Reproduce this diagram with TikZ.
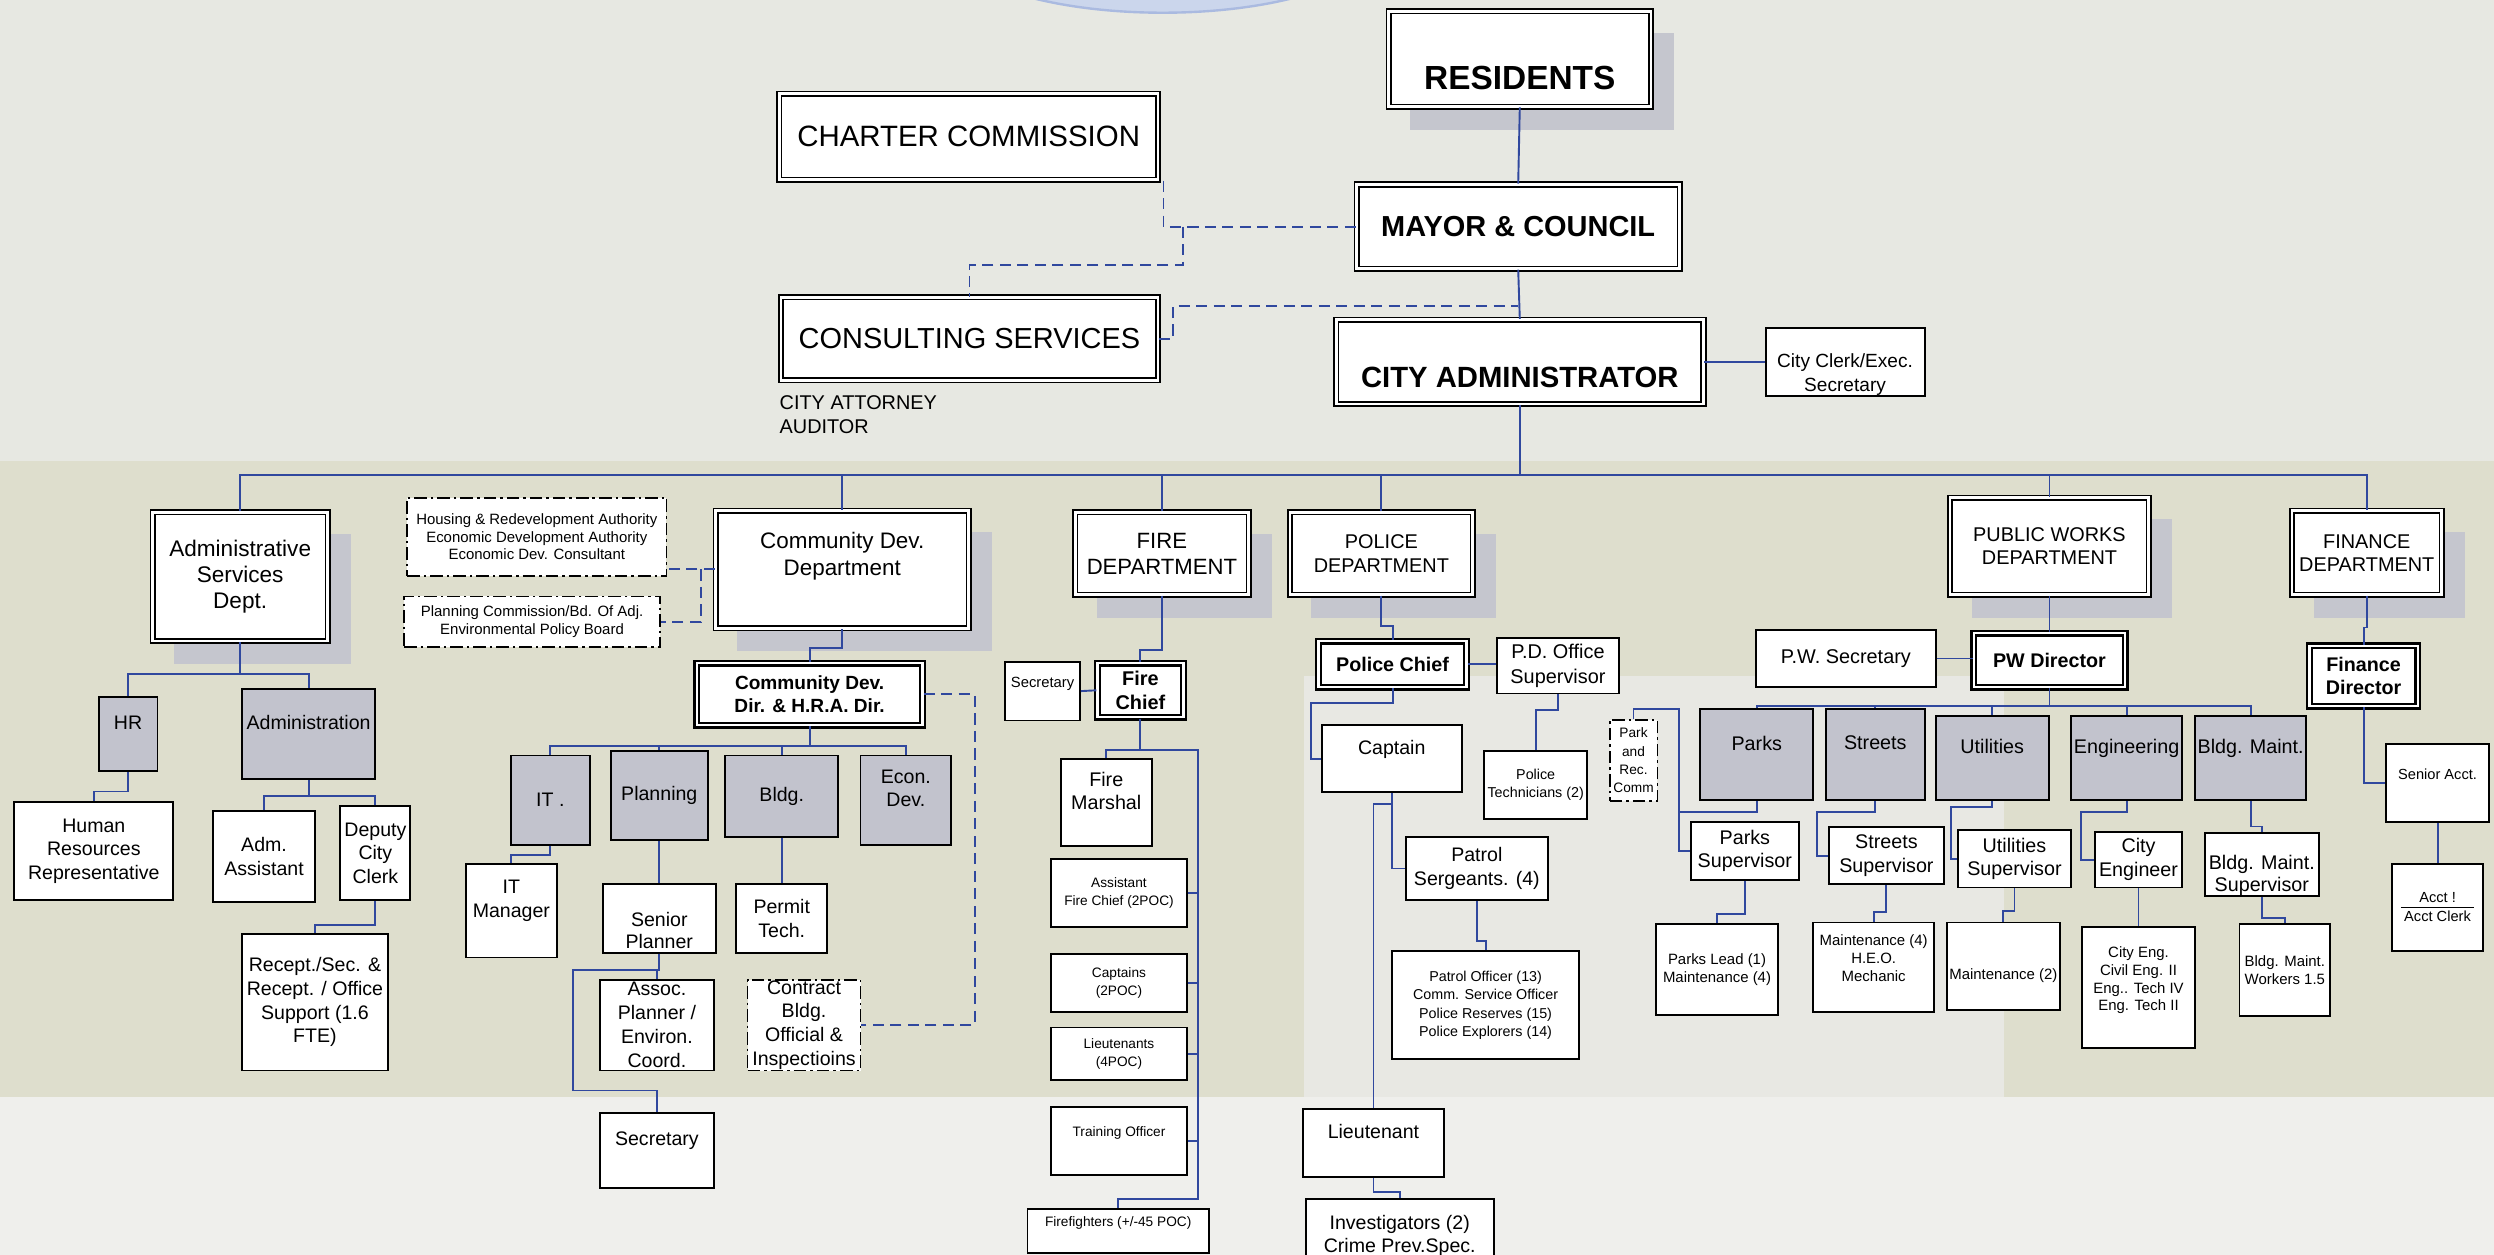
\documentclass[tikz,border=0pt]{standalone}
\usepackage{fontspec}
\setmainfont{Liberation Sans}
\usepackage{tikz}
\usetikzlibrary{calc, positioning, backgrounds}
\pgfdeclarelayer{paper}
\pgfsetlayers{paper,background,main}

\definecolor{paperbase}{RGB}{231,232,226}
\definecolor{paperband}{RGB}{222,222,205}
\definecolor{paperlight}{RGB}{232,232,227}
\definecolor{paperlow}{RGB}{239,239,236}
\definecolor{skyblue}{RGB}{203,214,236}
\definecolor{skyedge}{RGB}{170,186,224}
\definecolor{unitgray}{RGB}{194,195,205}
\definecolor{shadegray}{RGB}{197,198,206}
\definecolor{linkblue}{RGB}{48,72,158}

\begin{document}
\begin{tikzpicture}[
    x=1pt, y=-1pt,
    fs/.style 2 args={font=\fontsize{#1}{#2}\selectfont},
    bfs/.style 2 args={font=\fontsize{#1}{#2}\selectfont\bfseries},
    box/.style={
        rectangle, draw=black, line width=1.2pt, fill=white,
        align=center, inner sep=0.5pt
    },
    grey_box/.style={
        box, fill=unitgray
    },
    dept_box/.style={
        rectangle, draw=black, line width=1pt, double=white, double distance=1.8pt,
        fill=white, align=center, inner sep=0.5pt
    },
    chief_box/.style={
        rectangle, draw=black, line width=1.5pt, double=white, double distance=1.4pt,
        fill=white, align=center, inner sep=0.5pt
    },
    board_box/.style={
        box, line width=1.1pt, dash pattern=on 8pt off 2.5pt on 1.5pt off 2.5pt
    },
    drop_shade/.style={fill=shadegray, draw=none},
    conn/.style={draw=linkblue, line width=1.2pt},
    dconn/.style={conn, dash pattern=on 7pt off 4pt}
]
    \useasboundingbox (0,0) rectangle (1568,789);

    % paper behind everything
    \begin{pgfonlayer}{paper}
        \fill [paperbase] (0,0) rectangle (1568,789);
        \fill [paperband] (0,290) rectangle (1568,690);
        \fill [paperlight] (820,425) rectangle (1260,690);
        \fill [paperlow] (0,690) rectangle (1568,789);
        \filldraw [fill=skyblue, draw=skyedge, line width=1.5pt] (731,-40) ellipse [x radius=139, y radius=48];
    \end{pgfonlayer}

    % =========================================================================
    % TOP: RESIDENTS, COUNCIL, ADMINISTRATOR
    % =========================================================================
    \node [dept_box, bfs={21}{23}, minimum width=165, minimum height=60] (top_residents) at (955.5, 37) {\strut\\RESIDENTS};
    \node [dept_box, fs={18.5}{22}, minimum width=238, minimum height=54] (top_charter) at (609, 86) {CHARTER COMMISSION};
    \node [dept_box, bfs={18.2}{22}, minimum width=203, minimum height=53] (top_mayor) at (954.5, 142.5) {MAYOR \& COUNCIL};
    \node [dept_box, fs={18.2}{22}, minimum width=237, minimum height=52] (top_consult) at (609.5, 213) {CONSULTING SERVICES};
    \node [dept_box, bfs={18.4}{19}, minimum width=231, minimum height=53] (top_admin) at (955.5, 227.5) {\strut\\CITY ADMINISTRATOR};
    \node [box, fs={12}{14.5}, minimum width=100, minimum height=43] (top_clerk) at (1160, 227.5) {\strut\\City Clerk/Exec.\\Secretary};
    \node [fs={12.5}{15.3}, align=left, anchor=west, inner sep=0pt] (top_attorney) at (490, 260.5) {CITY ATTORNEY\\AUDITOR};

    \draw [conn] (top_residents.south) -- (top_mayor.north);
    \draw [conn] (top_mayor.south) -- (top_admin.north);
    \draw [conn] (top_admin.east) -- (top_clerk.west);

    % dashed advisory links
    \draw [dconn] ([xshift=3]top_charter.south east) |- (top_mayor.west);
    \coordinate (cc_fork) at ([xshift=-109]top_mayor.west);
    \draw [dconn] (cc_fork) -- ++(0,24) -| (top_consult.north);
    \draw [dconn] (top_consult.east) -- ++(9,0) |- ([yshift=-23]top_mayor.south);

    % =========================================================================
    % DEPARTMENTS
    % =========================================================================
    \node [dept_box, fs={14.2}{16.4}, minimum width=110, minimum height=81] (asd_dept) at (151, 362.5) {Administrative\\Services\\Dept.};
    \node [dept_box, fs={14.1}{16.5}, minimum width=159, minimum height=74] (cd_dept) at (529.5, 358) {Community Dev.\\Department\\[3pt]\mbox{}};
    \node [dept_box, fs={13.9}{16.3}, minimum width=109, minimum height=52] (fd_dept) at (730.5, 348) {FIRE\\DEPARTMENT};
    \node [dept_box, fs={12.5}{14.7}, minimum width=115, minimum height=52] (pd_dept) at (868.5, 348) {POLICE\\DEPARTMENT};
    \node [dept_box, fs={12.5}{14.6}, minimum width=125, minimum height=61] (pw_dept) at (1288.5, 343.5) {PUBLIC WORKS\\DEPARTMENT};
    \node [dept_box, fs={12.5}{14.6}, minimum width=94, minimum height=53] (fn_dept) at (1488, 347.5) {FINANCE\\DEPARTMENT};

    \draw [conn] (top_admin.south) -- ++(0,44) coordinate (ca_bus);
    \draw [conn] (asd_dept.north) |- (ca_bus);
    \draw [conn] (cd_dept.north) |- (ca_bus);
    \draw [conn] (fd_dept.north) |- (ca_bus);
    \draw [conn] (pd_dept.north) |- (ca_bus);
    \draw [conn] (pw_dept.north) |- (ca_bus);
    \draw [conn] (fn_dept.north) |- (ca_bus);

    % =========================================================================
    % ADMINISTRATIVE SERVICES
    % =========================================================================
    \node [grey_box, fs={12.3}{14.7}, minimum width=37, minimum height=47] (asd_hr) at (80.5, 461.5) {HR\\\mbox{}};
    \node [grey_box, fs={12.3}{14.7}, minimum width=84, minimum height=57] (asd_admin) at (194, 461.5) {Administration\\\mbox{}};
    \node [box, fs={12.3}{14.7}, minimum width=100, minimum height=62] (asd_hrrep) at (59, 535) {Human\\Resources\\Representative};
    \node [box, fs={12.3}{14.7}, minimum width=64, minimum height=57] (asd_assist) at (166, 538.5) {Adm.\\Assistant};
    \node [box, fs={12.3}{14.7}, minimum width=44, minimum height=59] (asd_deputy) at (236, 536.5) {Deputy\\City\\Clerk};
    \node [box, fs={12.3}{15}, minimum width=92, minimum height=86] (asd_recept) at (198, 630) {Recept./Sec. \&\\Recept. / Office\\Support (1.6\\FTE)};

    \draw [conn] (asd_dept.south) -- ++(0,20) coordinate (as_bus);
    \draw [conn] (asd_hr.north) |- (as_bus);
    \draw [conn] (asd_admin.north) |- (as_bus);
    \draw [conn] (asd_hr.south) -- ++(0,12) -| (asd_hrrep.north);
    \draw [conn] (asd_admin.south) -- ++(0,10) coordinate (ad_bus);
    \draw [conn] (asd_assist.north) |- (ad_bus);
    \draw [conn] (asd_deputy.north) |- (ad_bus);
    \draw [conn] (asd_deputy.south) -- ++(0,15) -| (asd_recept.north);

    % =========================================================================
    % COMMUNITY DEVELOPMENT
    % =========================================================================
    \node [board_box, fs={9.4}{11.2}, minimum width=163, minimum height=49] (cd_hra) at (337.5, 337.5) {Housing \& Redevelopment Authority\\Economic Development Authority\\Economic Dev. Consultant};
    \node [board_box, fs={9.4}{11.2}, minimum width=161, minimum height=32] (cd_pcb) at (334.5, 391) {Planning Commission/Bd. Of Adj.\\Environmental Policy Board};
    \node [chief_box, bfs={12}{14.2}, minimum width=142, minimum height=39] (cd_dir) at (509, 436.5) {Community Dev.\\Dir. \& H.R.A. Dir.};

    \node [grey_box, fs={12.3}{14.7}, minimum width=50, minimum height=56] (cd_it) at (346, 503) {IT .};
    \node [grey_box, fs={12.3}{14.7}, minimum width=61, minimum height=56] (cd_plan) at (414.5, 500) {Planning};
    \node [grey_box, fs={12.3}{14.7}, minimum width=71, minimum height=51] (cd_bldg) at (491.5, 500.5) {Bldg.};
    \node [grey_box, fs={12.3}{14.7}, minimum width=57, minimum height=56] (cd_econ) at (569.5, 503) {Econ.\\Dev.\\\mbox{}};

    \node [box, fs={12.3}{14.7}, minimum width=57, minimum height=59] (cd_itmgr) at (321.5, 572.5) {IT\\Manager\\\mbox{}};
    \node [box, fs={12.3}{14.2}, minimum width=71, minimum height=43] (cd_senior) at (414.5, 577.5) {\strut\\Senior\\Planner};
    \node [box, fs={12.3}{14.7}, minimum width=57, minimum height=43] (cd_permit) at (491.5, 577.5) {Permit\\Tech.};
    \node [box, fs={12.3}{15}, minimum width=72, minimum height=57] (cd_assoc) at (413, 644.5) {Assoc.\\Planner /\\Environ.\\Coord.};
    \node [board_box, fs={12.3}{15}, minimum width=71, minimum height=57] (cd_contract) at (505.5, 644.5) {Contract\\Bldg.\\Official \&\\Inspectioins};
    \node [box, fs={12.3}{14.7}, minimum width=72, minimum height=47] (cd_sec) at (413, 723.5) {Secretary\\\mbox{}};

    \draw [dconn] (cd_dept.west) -- (cd_dept.west -| cd_hra.east);
    \draw [dconn] ([xshift=-9]cd_dept.west) |- (cd_pcb.east);
    \draw [conn] (cd_dept.south) -- ++(0,12) -| (cd_dir.north);
    \draw [dconn] (cd_dir.east) -- ++(32,0) |- (cd_contract.east);

    \draw [conn] (cd_dir.south) -- ++(0,12) coordinate (cd_bus);
    \draw [conn] (cd_it.north) |- (cd_bus);
    \draw [conn] (cd_plan.north) |- (cd_bus);
    \draw [conn] (cd_bldg.north) |- (cd_bus);
    \draw [conn] (cd_econ.north) |- (cd_bus);

    \draw [conn] (cd_it.south) -- ++(0,6) -| (cd_itmgr.north);
    \draw [conn] (cd_plan.south) -- (cd_senior.north);
    \draw [conn] (cd_bldg.south) -- (cd_permit.north);
    \draw [conn] (cd_senior.south) -- ++(0,10) coordinate (sp_fork) -| (cd_assoc.north);
    \draw [conn] (sp_fork) -- ++(-54.5,0) -- ++(0,76) -| (cd_sec.north);

    % =========================================================================
    % FIRE DEPARTMENT
    % =========================================================================
    \node [chief_box, bfs={12.5}{14.7}, minimum width=54, minimum height=34] (fd_chief) at (717, 434) {Fire\\Chief};
    \node [box, fs={9.3}{11}, minimum width=47, minimum height=37] (fd_sec) at (655.5, 434.5) {Secretary\\\mbox{}};
    \node [box, fs={12.4}{14.7}, minimum width=57, minimum height=55] (fd_marshal) at (695.5, 504.5) {Fire\\Marshal\\\mbox{}};
    \node [box, fs={8.6}{11.6}, minimum width=85, minimum height=43] (fd_asst) at (703.5, 561.5) {Assistant\\Fire Chief (2POC)};
    \node [box, fs={8.6}{11.6}, minimum width=85, minimum height=36] (fd_capt) at (703.5, 618) {Captains\\(2POC)};
    \node [box, fs={8.6}{11.6}, minimum width=85, minimum height=33] (fd_lts) at (703.5, 662.5) {Lieutenants\\(4POC)};
    \node [box, fs={8.6}{11.6}, minimum width=85, minimum height=43] (fd_train) at (703.5, 717.5) {Training Officer\\\mbox{}};
    \node [box, fs={8.6}{11.6}, minimum width=114, minimum height=28] (fd_ffs) at (703, 774) {Firefighters (+/-45 POC)\\\mbox{}};

    \draw [conn] (fd_dept.south) -- ++(0,34) -| (fd_chief.north);
    \draw [conn] (fd_sec.east) -- (fd_chief.west);
    \draw [conn] (fd_chief.south) -- ++(0,20) coordinate (fc_fork) -| (fd_marshal.north);
    \draw [conn] (fc_fork) -| ++(36,282) coordinate (fc_rail) -| (fd_ffs.north);
    \draw [conn] (fd_asst.east) -- (fd_asst.east -| fc_rail);
    \draw [conn] (fd_capt.east) -- (fd_capt.east -| fc_rail);
    \draw [conn] (fd_lts.east) -- (fd_lts.east -| fc_rail);
    \draw [conn] (fd_train.east) -- (fd_train.east -| fc_rail);

    % =========================================================================
    % POLICE DEPARTMENT
    % =========================================================================
    \node [chief_box, bfs={12.4}{14.7}, minimum width=93, minimum height=29] (pd_chief) at (875.5, 417.5) {Police Chief};
    \node [box, fs={12.5}{15.6}, minimum width=77, minimum height=35] (pd_office) at (979.5, 418.5) {P.D. Office\\Supervisor};
    \node [box, fs={9}{11}, minimum width=65, minimum height=43] (pd_tech) at (965.5, 493.5) {Police\\Technicians (2)};
    \node [box, fs={12.3}{14.7}, minimum width=88, minimum height=42] (pd_capt) at (875, 477) {Captain\\\mbox{}};
    \node [box, fs={12.3}{15}, minimum width=89, minimum height=40] (pd_sgt) at (928.5, 546) {Patrol\\Sergeants. (4)};
    \node [box, fs={9}{11.6}, minimum width=118, minimum height=68] (pd_patrol) at (934, 632) {Patrol Officer (13)\\Comm. Service Officer\\Police Reserves (15)\\Police Explorers (14)};
    \node [box, fs={12.3}{14.7}, minimum width=89, minimum height=43] (pd_lt) at (863.5, 718.5) {Lieutenant\\\mbox{}};
    \node [box, fs={12.3}{14.4}, minimum width=118, minimum height=46] (pd_inv) at (880, 777) {Investigators (2)\\Crime Prev.Spec.};

    \draw [conn] (pd_dept.south) -- ++(0,19) -| (pd_chief.north);
    \draw [conn] (pd_chief.east) -- (pd_chief.east -| pd_office.west);
    \draw [conn] (pd_office.south) -- ++(0,10) -| (pd_tech.north);
    \draw [conn] (pd_chief.south) -- ++(0,9) -| ([xshift=-6]pd_capt.west) -- (pd_capt.west);
    \draw [conn] (pd_capt.south) |- (pd_sgt.west);
    \draw [conn] ([yshift=-7]pd_capt.south) -| (pd_lt.north);
    \draw [conn] (pd_sgt.south) -- ++(0,25) -| (pd_patrol.north);
    \draw [conn] (pd_lt.south) -- ++(0,9) -| (pd_inv.north);

    % =========================================================================
    % PUBLIC WORKS
    % =========================================================================
    \node [chief_box, bfs={12.4}{14.7}, minimum width=95, minimum height=34] (pw_dir) at (1288.5, 415) {PW Director};
    \node [box, fs={12.5}{14.7}, minimum width=113, minimum height=36] (pw_sec) at (1160.5, 414) {P.W. Secretary};
    \node [board_box, fs={8.6}{11.5}, minimum width=30, minimum height=51] (pw_parkrec) at (1027, 478) {Park\\and\\Rec.\\Comm};

    \node [grey_box, fs={12.4}{14.7}, minimum width=71, minimum height=57] (pw_parks) at (1104.5, 474.5) {Parks\\\mbox{}};
    \node [grey_box, fs={12.4}{14.7}, minimum width=62, minimum height=57] (pw_streets) at (1179, 474.5) {Streets\\\mbox{}};
    \node [grey_box, fs={12.4}{14.7}, minimum width=71, minimum height=53] (pw_util) at (1252.5, 476.5) {Utilities\\\mbox{}};
    \node [grey_box, fs={12.4}{14.7}, minimum width=70, minimum height=53] (pw_eng) at (1337, 476.5) {Engineering\\\mbox{}};
    \node [grey_box, fs={12.4}{14.7}, minimum width=70, minimum height=53] (pw_bmaint) at (1415, 476.5) {Bldg. Maint.\\\mbox{}};

    \node [box, fs={12.4}{15}, minimum width=68, minimum height=36] (pw_parksup) at (1097, 535) {Parks\\Supervisor};
    \node [box, fs={12.4}{15}, minimum width=72, minimum height=36] (pw_strsup) at (1186, 538) {Streets\\Supervisor};
    \node [box, fs={12.4}{15}, minimum width=71, minimum height=36] (pw_utilsup) at (1266.5, 540) {Utilities\\Supervisor};
    \node [box, fs={12.4}{15}, minimum width=55, minimum height=35] (pw_citeng) at (1344.5, 540.5) {City\\Engineer};
    \node [box, fs={12.4}{13.5}, minimum width=72, minimum height=37] (pw_bmsup) at (1422, 543.5) {\strut\\Bldg. Maint.\\Supervisor};

    \node [box, fs={9.4}{11.2}, minimum width=77, minimum height=57] (pw_parklead) at (1079.5, 609.5) {Parks Lead (1)\\Maintenance (4)};
    \node [box, fs={9.4}{11.2}, minimum width=76, minimum height=56] (pw_strmaint) at (1178, 608) {Maintenance (4)\\H.E.O.\\Mechanic\\\mbox{}};
    \node [box, fs={9.4}{11.2}, minimum width=71, minimum height=55] (pw_utilmaint) at (1259.5, 607.5) {\strut\\Maintenance (2)};
    \node [box, fs={9.4}{11.2}, minimum width=71, minimum height=76] (pw_engstaff) at (1344.5, 621) {City Eng.\\Civil Eng. II\\Eng.. Tech IV\\Eng. Tech II\\\mbox{}};
    \node [box, fs={9.4}{11.2}, minimum width=57, minimum height=58] (pw_bmwork) at (1436.5, 610) {Bldg. Maint.\\Workers 1.5};

    \draw [conn] (pw_dept.south) -- (pw_dir.north);
    \draw [conn] (pw_sec.east) -- (pw_sec.east -| pw_dir.west);
    \draw [conn] (pw_dir.south) -- ++(0,11) coordinate (pw_bus);
    \draw [conn] (pw_parks.north) |- (pw_bus);
    \draw [conn] (pw_streets.north) |- (pw_bus);
    \draw [conn] (pw_util.north) |- (pw_bus);
    \draw [conn] (pw_eng.north) |- (pw_bus);
    \draw [conn] (pw_bmaint.north) |- (pw_bus);

    % Park and Rec. Comm joins the parks line
    \draw [conn] (pw_parkrec.north) -- ++(0,-6) -| ([xshift=-7]pw_parksup.west) -- (pw_parksup.west);
    \draw [conn] (pw_parks.south) -- ++(0,7) -| ([xshift=-7]pw_parksup.west);
    \draw [conn] (pw_streets.south) -- ++(0,7) -| ([xshift=-7]pw_strsup.west) -- (pw_strsup.west);
    \draw [conn] (pw_util.south) -- ++(0,4) -| ([xshift=-4]pw_utilsup.west) -- (pw_utilsup.west);
    \draw [conn] (pw_eng.south) -- ++(0,7) -| ([xshift=-8]pw_citeng.west) -- (pw_citeng.west);
    \draw [conn] (pw_bmaint.south) -- ++(0,16) -| (pw_bmsup.north);

    \draw [conn] (pw_parksup.south) -- ++(0,21) -| (pw_parklead.north);
    \draw [conn] (pw_strsup.south) -- ++(0,17) -| (pw_strmaint.north);
    \draw [conn] (pw_utilsup.south) -- ++(0,14) -| (pw_utilmaint.north);
    \draw [conn] (pw_citeng.south) -- (pw_engstaff.north);
    \draw [conn] (pw_bmsup.south) -- ++(0,13) -| (pw_bmwork.north);

    % =========================================================================
    % FINANCE
    % =========================================================================
    \node [chief_box, bfs={12.4}{14.6}, minimum width=68, minimum height=38] (fn_dir) at (1486, 425) {Finance\\Director};
    \node [box, fs={9.2}{11}, minimum width=65, minimum height=49] (fn_senior) at (1532.5, 492.5) {Senior Acct.\\\mbox{}};
    \node [box, fs={9.2}{12}, minimum width=57, minimum height=55] (fn_acct) at (1532.5, 570.5) {Acct !\\Acct Clerk};

    \draw [conn] (fn_dept.south) -- ++(0,20) -| (fn_dir.north);
    \draw [conn] (fn_dir.south) |- (fn_senior.west);
    \draw [conn] (fn_senior.south) -- (fn_acct.north);
    \draw [line width=0.8pt] ([xshift=-23]fn_acct.center) -- ([xshift=23]fn_acct.center);

    % grey drop shades behind the department boxes
    \begin{scope}[on background layer]
        \fill [drop_shade] ([shift={(14,14)}]top_residents.south west) rectangle ([shift={(14,14)}]top_residents.north east);
        \fill [drop_shade] ([shift={(14,14)}]asd_dept.south west) rectangle ([shift={(14,14)}]asd_dept.north east);
        \fill [drop_shade] ([shift={(14,14)}]cd_dept.south west) rectangle ([shift={(14,14)}]cd_dept.north east);
        \fill [drop_shade] ([shift={(14,14)}]fd_dept.south west) rectangle ([shift={(14,14)}]fd_dept.north east);
        \fill [drop_shade] ([shift={(14,14)}]pd_dept.south west) rectangle ([shift={(14,14)}]pd_dept.north east);
        \fill [drop_shade] ([shift={(14,14)}]pw_dept.south west) rectangle ([shift={(14,14)}]pw_dept.north east);
        \fill [drop_shade] ([shift={(14,14)}]fn_dept.south west) rectangle ([shift={(14,14)}]fn_dept.north east);
    \end{scope}

\end{tikzpicture}
\end{document}
